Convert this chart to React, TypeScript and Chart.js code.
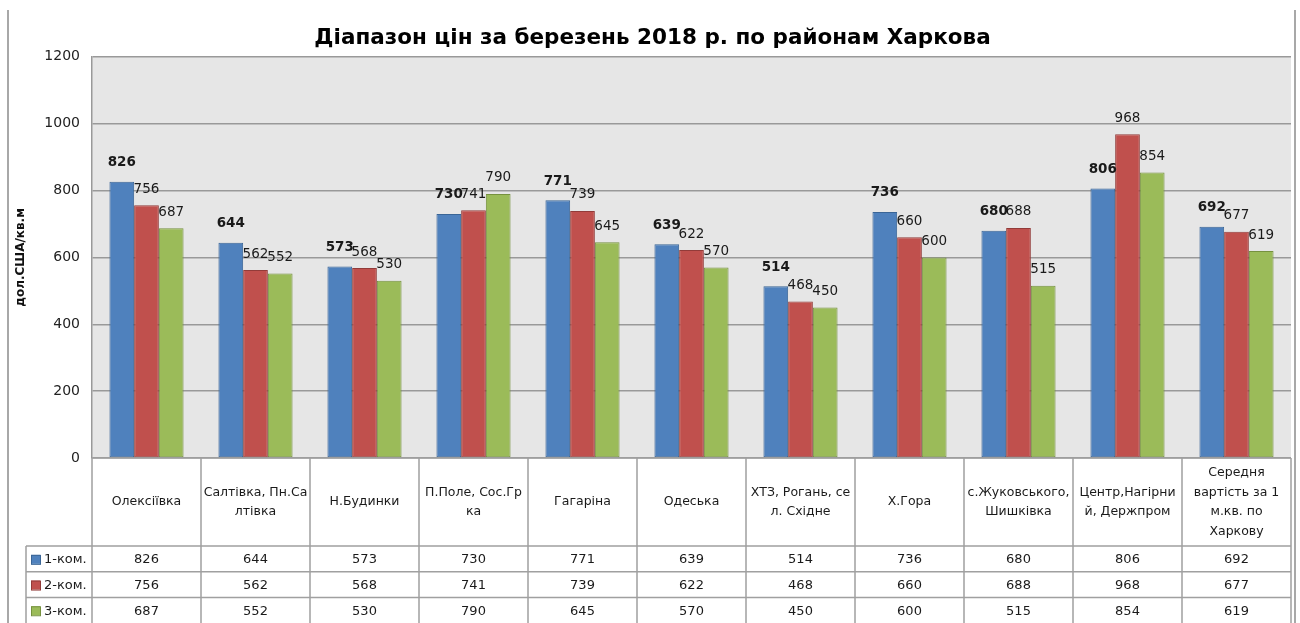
import React, { useEffect, useRef } from "react";
import { Chart, registerables } from "chart.js";

Chart.register(...registerables);

const TITLE = "Діапазон цін за березень 2018 р. по районам Харкова";
const Y_TITLE = "дол.США/кв.м";

const categories: string[][] = [
  ["Олексіївка"],
  ["Салтівка, Пн.Са", "лтівка"],
  ["Н.Будинки"],
  ["П.Поле, Сос.Гр", "ка"],
  ["Гагаріна"],
  ["Одеська"],
  ["ХТЗ, Рогань, се", "л. Східне"],
  ["Х.Гора"],
  ["с.Жуковського,", "Шишківка"],
  ["Центр,Нагірни", "й, Держпром"],
  ["Середня", "вартість за 1", "м.кв. по", "Харкову"],
];

const seriesNames = ["1-ком.", "2-ком.", "3-ком."];
const oneRoom = [826, 644, 573, 730, 771, 639, 514, 736, 680, 806, 692];
const twoRoom = [756, 562, 568, 741, 739, 622, 468, 660, 688, 968, 677];
const threeRoom = [687, 552, 530, 790, 645, 570, 450, 600, 515, 854, 619];

const fillColors = ["#4F81BD", "#C0504D", "#9BBB59"];
const borderColors = ["#3A6596", "#923B39", "#76913F"];

const FONT = "'DejaVu Sans', sans-serif";

const bgPlugin = {
  id: "bgPlugin",
  beforeDraw(chart: any) {
    const { ctx, chartArea } = chart;
    ctx.save();
    ctx.fillStyle = "#ffffff";
    ctx.fillRect(0, 0, chart.width, chart.height);
    ctx.fillStyle = "#E6E6E6";
    ctx.fillRect(chartArea.left, chartArea.top, chartArea.right - chartArea.left, chartArea.bottom - chartArea.top);
    ctx.restore();
  },
};

const labelPlugin = {
  id: "labelPlugin",
  afterDatasetsDraw(chart: any) {
    const { ctx } = chart;
    ctx.save();
    ctx.textAlign = "center";
    ctx.textBaseline = "middle";
    ctx.fillStyle = "#1a1a1a";
    chart.data.datasets.forEach((ds: any, di: number) => {
      const meta = chart.getDatasetMeta(di);
      ctx.font = (di === 0 ? "bold " : "") + "13.5px " + FONT;
      meta.data.forEach((el: any, i: number) => {
        const off = di === 0 ? 19 : 16;
        ctx.fillText(String(ds.data[i]), el.x, el.y - off);
      });
    });
    ctx.restore();
  },
};

const tablePlugin = {
  id: "tablePlugin",
  afterDraw(chart: any) {
    const { ctx, chartArea } = chart;
    const labels = chart.data.labels as string[][];
    const n = labels.length;
    const left = chartArea.left;
    const right = chartArea.right;
    const cw = (right - left) / n;
    const top = chartArea.bottom;
    const headBottom = top + 88;
    const rowH = 25.7;
    const legendLeft = 26;
    const bottom = chart.height;

    ctx.save();
    ctx.strokeStyle = "#A0A0A0";
    ctx.lineWidth = 1.5;
    ctx.beginPath();
    ctx.moveTo(left, top);
    ctx.lineTo(right, top);
    for (let r = 0; r < 3; r++) {
      const y = headBottom + r * rowH;
      ctx.moveTo(legendLeft, y);
      ctx.lineTo(right, y);
    }
    for (let i = 0; i <= n; i++) {
      const x = left + i * cw;
      ctx.moveTo(x, top);
      ctx.lineTo(x, bottom);
    }
    ctx.moveTo(legendLeft, headBottom);
    ctx.lineTo(legendLeft, bottom);
    ctx.stroke();

    // outer chart border
    ctx.strokeStyle = "#8C8C8C";
    ctx.lineWidth = 1.5;
    ctx.beginPath();
    ctx.moveTo(8, 10);
    ctx.lineTo(8, bottom);
    ctx.moveTo(1295, 10);
    ctx.lineTo(1295, bottom);
    ctx.stroke();

    // header text
    ctx.fillStyle = "#1a1a1a";
    ctx.font = "12.5px " + FONT;
    ctx.textAlign = "center";
    ctx.textBaseline = "middle";
    const lh = 19.5;
    labels.forEach((lines, i) => {
      const cx = left + (i + 0.5) * cw;
      const cy = (top + headBottom) / 2;
      const startY = cy - ((lines.length - 1) * lh) / 2;
      lines.forEach((ln, k) => ctx.fillText(ln, cx, startY + k * lh));
    });

    // data rows
    chart.data.datasets.forEach((ds: any, di: number) => {
      const cy = headBottom + di * rowH + rowH / 2 + 1;
      ctx.font = "13px " + FONT;
      ctx.textAlign = "center";
      ds.data.forEach((v: number, i: number) => {
        ctx.fillText(String(v), left + (i + 0.5) * cw, cy);
      });
      ctx.fillStyle = fillColors[di];
      ctx.strokeStyle = borderColors[di];
      ctx.lineWidth = 1;
      ctx.fillRect(31, cy - 5, 9, 9);
      ctx.strokeRect(31.5, cy - 4.5, 9, 9);
      ctx.fillStyle = "#1a1a1a";
      ctx.textAlign = "left";
      ctx.fillText(ds.label, 44, cy);
    });
    ctx.restore();
  },
};

export default function App() {
  const ref = useRef<HTMLCanvasElement | null>(null);

  useEffect(() => {
    document.body.style.margin = "0";
    if (!ref.current) return;
    const data = [oneRoom, twoRoom, threeRoom];
    const chart = new Chart(ref.current, {
      type: "bar",
      data: {
        labels: categories,
        datasets: data.map((d, i) => ({
          label: seriesNames[i],
          data: d,
          backgroundColor: fillColors[i],
          borderColor: borderColors[i],
          borderWidth: 1,
          borderSkipped: false,
          categoryPercentage: 0.68,
          barPercentage: 1.0,
        })),
      },
      options: {
        responsive: false,
        animation: false,
        devicePixelRatio: 1,
        layout: { padding: { left: 14, right: 9, top: 0, bottom: 165 } },
        plugins: {
          legend: { display: false },
          tooltip: { enabled: false },
          title: {
            display: true,
            text: TITLE,
            color: "#000",
            font: { family: FONT, size: 21.5, weight: "bold", lineHeight: 1.2 },
            padding: { top: 26, bottom: 5 },
          },
        },
        scales: {
          x: {
            display: false,
            offset: true,
          },
          y: {
            min: 0,
            max: 1200,
            ticks: {
              stepSize: 200,
              color: "#222",
              padding: 12,
              font: { family: FONT, size: 14 },
              callback: (v: any) => String(v),
            },
            grid: { color: "#999", lineWidth: 1.5, drawTicks: false },
            border: { display: true, color: "#999", width: 1.5 },
            title: {
              display: true,
              text: Y_TITLE,
              color: "#111",
              padding: 0,
              font: { family: FONT, size: 12, weight: "bold" },
            },
            afterFit(scale: any) {
              scale.width = 78;
            },
          },
        },
      },
      plugins: [bgPlugin, labelPlugin, tablePlugin],
    });
    return () => chart.destroy();
  }, []);

  return (
    <div style={{ position: "absolute", left: 0, top: 0 }}>
      <canvas ref={ref} width={1300} height={623} />
    </div>
  );
}
